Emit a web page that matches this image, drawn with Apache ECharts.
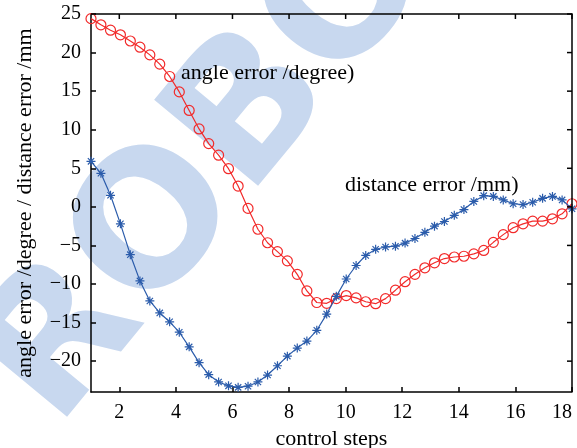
<!DOCTYPE html>
<html><head><meta charset="utf-8">
<script src="https://cdn.jsdelivr.net/npm/echarts@6/dist/echarts.min.js"></script>
<style>html,body{margin:0;padding:0;background:#fff}#c{width:577px;height:448px}</style>
</head><body><div id="c"></div>
<script>
const xSteps = [1.00,1.35,1.69,2.04,2.39,2.73,3.08,3.43,3.78,4.12,4.47,4.82,5.16,5.51,5.86,6.20,6.55,6.90,7.24,7.59,7.94,8.29,8.63,8.98,9.33,9.67,10.02,10.37,10.71,11.06,11.41,11.76,12.10,12.45,12.80,13.14,13.49,13.84,14.18,14.53,14.88,15.22,15.57,15.92,16.27,16.61,16.96,17.31,17.65,18.00];
const angleError = [24.4,23.6,22.9,22.3,21.5,20.7,19.7,18.5,16.9,14.9,12.5,10.1,8.2,6.7,4.95,2.7,-0.2,-2.9,-4.65,-5.8,-7.0,-8.75,-10.9,-12.4,-12.5,-11.9,-11.5,-11.8,-12.3,-12.55,-11.9,-10.8,-9.7,-8.75,-7.9,-7.25,-6.7,-6.5,-6.4,-6.1,-5.65,-4.6,-3.6,-2.7,-2.2,-1.85,-1.85,-1.55,-0.9,0.4];
const distanceError = [5.9,4.35,1.5,-2.2,-6.2,-9.6,-12.2,-13.75,-14.9,-16.25,-18.15,-20.2,-21.75,-22.7,-23.2,-23.4,-23.25,-22.7,-21.8,-20.6,-19.35,-18.3,-17.4,-16.0,-13.9,-11.6,-9.35,-7.6,-6.3,-5.5,-5.2,-5.1,-4.7,-4.1,-3.3,-2.5,-1.9,-1.1,-0.35,0.7,1.45,1.35,0.9,0.4,0.3,0.6,1.1,1.35,0.9,-0.25];
const xTicks = [2,4,6,8,10,12,14,16,18];
const yTicks = [-20,-15,-10,-5,0,5,10,15,20,25];
const xName = 'control steps';
const yName = 'angle error /degree / distance error /mm';
const angleLabel = 'angle error /degree)';
const distanceLabel = 'distance error /mm)';
const watermark = 'ROBOT';

(function () {
const FONT = 'Liberation Serif';
const RED = '#f22a2a';
const BLUE = '#2b5cab';
const X_MIN = 1, X_MAX = 18, Y_MIN = -24, Y_MAX = 25;
const fmt = v => (v < 0 ? '\u2212' + Math.abs(v) : String(v));
const star = 'path://M0,-10L0,10M-10,0L10,0M-7,-7L7,7M-7,7L7,-7';
const axisLS = {color: '#000', width: 1.5};

// frame items: kind 1 = top tick, kind 2 = right tick, kind 3 = top/right frame lines
const frameItems = xTicks.map(v => [1, v]).concat(yTicks.map(v => [2, v])).concat([[3, 0]]);

const chart = echarts.init(document.getElementById('c'), null, {renderer: 'canvas'});
chart.setOption({
  animation: false,
  backgroundColor: '#fff',
  grid: {left: 91, right: 5, top: 14, bottom: 56, containLabel: false, outerBoundsMode: 'none'},
  graphic: [
    {type: 'text', z: -10, x: 250, y: 120, rotation: 0.88,
     style: {text: watermark, fill: '#c8d8ef', font: 'bold 185px "DejaVu Sans"', align: 'center', verticalAlign: 'middle'}},
    {type: 'text', z: 50, x: 181, y: 73, style: {text: angleLabel, fill: '#000', font: '22px "' + FONT + '"', align: 'left', verticalAlign: 'middle'}},
    {type: 'text', z: 50, x: 345, y: 185, style: {text: distanceLabel, fill: '#000', font: '22px "' + FONT + '"', align: 'left', verticalAlign: 'middle'}}
  ],
  xAxis: {
    type: 'value', min: X_MIN, max: X_MAX, position: 'bottom',
    name: xName, nameLocation: 'middle', nameGap: 34,
    nameTextStyle: {fontFamily: FONT, fontSize: 22, color: '#000'},
    axisLine: {show: true, onZero: false, lineStyle: axisLS},
    splitLine: {show: false},
    axisTick: {show: true, inside: true, length: 5, customValues: xTicks, lineStyle: axisLS},
    axisLabel: {show: true, customValues: xTicks, fontFamily: FONT, fontSize: 20, margin: 11, color: '#000', alignMaxLabel: 'right'}
  },
  yAxis: {
    type: 'value', min: Y_MIN, max: Y_MAX, position: 'left',
    name: yName, nameLocation: 'middle', nameGap: 55, nameRotate: 90,
    nameTextStyle: {fontFamily: FONT, fontSize: 22, color: '#000'},
    axisLine: {show: true, onZero: false, lineStyle: axisLS},
    splitLine: {show: false},
    axisTick: {show: true, inside: true, length: 5, customValues: yTicks, lineStyle: axisLS},
    axisLabel: {show: true, customValues: yTicks, formatter: fmt, fontFamily: FONT, fontSize: 20, margin: 10, color: '#000'}
  },
  series: [
    {
      type: 'line', name: 'angle error',
      data: xSteps.map((x, i) => [x, angleError[i]]),
      symbol: 'circle', symbolSize: 10, showAllSymbol: true,
      lineStyle: {color: RED, width: 1.2},
      itemStyle: {color: 'rgba(0,0,0,0)', borderColor: RED, borderWidth: 1.2},
      z: 3
    },
    {
      type: 'line', name: 'distance error',
      data: xSteps.map((x, i) => [x, distanceError[i]]),
      symbol: star, symbolSize: 9, symbolKeepAspect: true, showAllSymbol: true,
      lineStyle: {color: BLUE, width: 1.2},
      itemStyle: {color: 'rgba(0,0,0,0)', borderColor: BLUE, borderWidth: 1.2},
      z: 4
    },
    {
      type: 'custom', name: 'frame', silent: true, z: 10,
      data: frameItems,
      renderItem: function (params, api) {
        const kind = api.value(0), v = api.value(1);
        const st = {stroke: '#000', lineWidth: 1.5, fill: null};
        if (kind === 1) {
          const p = api.coord([v, Y_MAX]);
          return {type: 'line', shape: {x1: p[0], y1: p[1], x2: p[0], y2: p[1] + 5}, style: st};
        }
        if (kind === 2) {
          const p = api.coord([X_MAX, v]);
          return {type: 'line', shape: {x1: p[0], y1: p[1], x2: p[0] - 5, y2: p[1]}, style: st};
        }
        const a = api.coord([X_MIN, Y_MAX]), b = api.coord([X_MAX, Y_MAX]), c = api.coord([X_MAX, Y_MIN]);
        return {type: 'polyline', shape: {points: [a, b, c]}, style: st};
      }
    }
  ]
});
})();
</script>
</body></html>
